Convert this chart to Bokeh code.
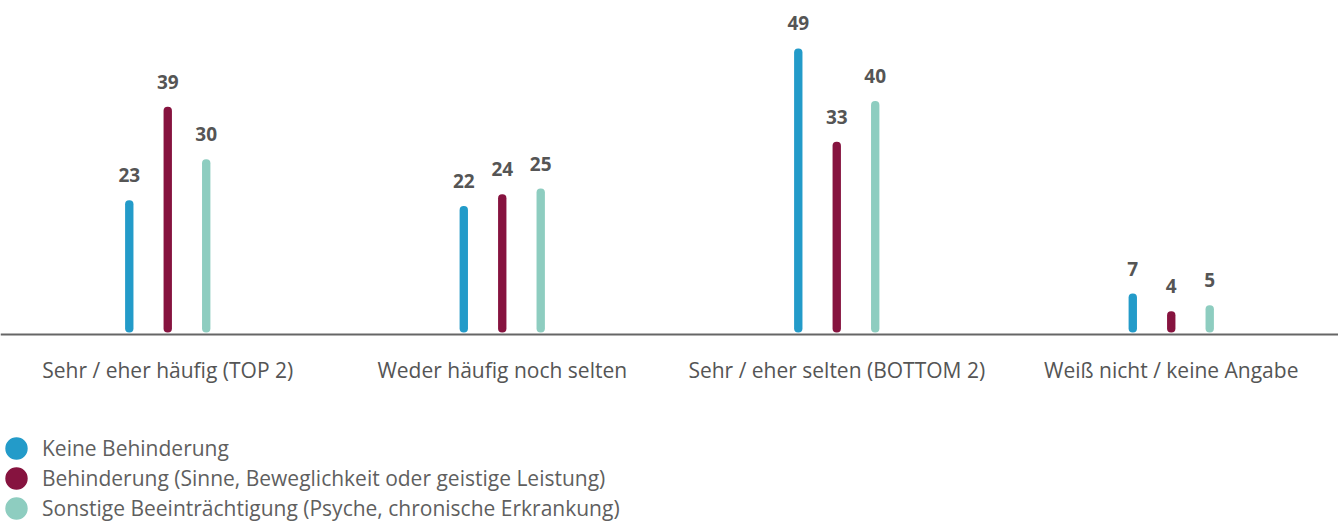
from bokeh.plotting import figure
from bokeh.models import FactorRange, Range1d, Legend, LegendItem, ColumnDataSource, Span
from bokeh.transform import dodge
from bokeh.core.properties import value
from bokeh.embed import file_html
from bokeh.resources import INLINE

categories = ["Sehr / eher häufig (TOP 2)", "Weder häufig noch selten",
              "Sehr / eher selten (BOTTOM 2)", "Weiß nicht / keine Angabe"]
series_names = ["Keine Behinderung",
                "Behinderung (Sinne, Beweglichkeit oder geistige Leistung)",
                "Sonstige Beeinträchtigung (Psyche, chronische Erkrankung)"]
keine = [23, 22, 49, 7]
behinderung = [39, 24, 33, 4]
sonstige = [30, 25, 40, 5]
colors = ["#239bc9", "#86133f", "#8ecdc0"]

FONT = "Open Sans"
TEXT = "#555555"
NAN = float("nan")

p = figure(width=1338, height=522, x_range=FactorRange(*categories, range_padding=0),
           y_range=Range1d(-32.2, 57.2), output_backend="svg", toolbar_location=None,
           x_axis_location=None, y_axis_location=None, min_border=0)
p.outline_line_color = None
p.xgrid.grid_line_color = None
p.ygrid.grid_line_color = None

# baseline (x axis line)
p.add_layout(Span(location=0, dimension="width", line_color="#666666", line_width=2))

# category labels
cat_src = ColumnDataSource(dict(cat=categories, y=[0] * len(categories)))
p.text(x="cat", y="y", text="cat", source=cat_src, text_align="center",
       text_baseline="middle", y_offset=36, text_font=value(FONT),
       text_font_size="21px", text_color=TEXT)

offsets = [-0.115, 0.0, 0.115]
src = ColumnDataSource(dict(cat=categories, s0=keine, s1=behinderung, s2=sonstige,
                            l0=[str(v) for v in keine], l1=[str(v) for v in behinderung],
                            l2=[str(v) for v in sonstige]))
legend_items = []
for i, (off, col) in enumerate(zip(offsets, colors)):
    xs = dodge("cat", off, range=p.x_range)
    p.vbar(x=xs, top=f"s{i}", bottom=0.35, width=0.025, source=src, fill_color=col,
           line_color=None, border_radius=4)
    p.text(x=xs, y=f"s{i}", text=f"l{i}", source=src, text_align="center",
           text_baseline="alphabetic", y_offset=-25, text_font=value(FONT),
           text_font_size="19px", text_font_style="bold", text_color=TEXT)
    # legend-only marker (not drawn in the plot area)
    r = p.ellipse(x=[NAN], y=[NAN], width=17, height=17, width_units="screen",
                  height_units="screen", fill_color=col, line_color=None)
    legend_items.append(LegendItem(label=series_names[i], renderers=[r]))

legend = Legend(items=legend_items, location=(2, 0), orientation="vertical",
                margin=0, padding=2, spacing=2, glyph_width=28, glyph_height=28,
                label_height=24, label_standoff=12, label_text_font=FONT,
                label_text_font_size="21px", label_text_color="#5f5f5f",
                border_line_color=None, background_fill_alpha=0)
p.add_layout(legend, "center")

open("out.html", "w").write(file_html(p, INLINE))
